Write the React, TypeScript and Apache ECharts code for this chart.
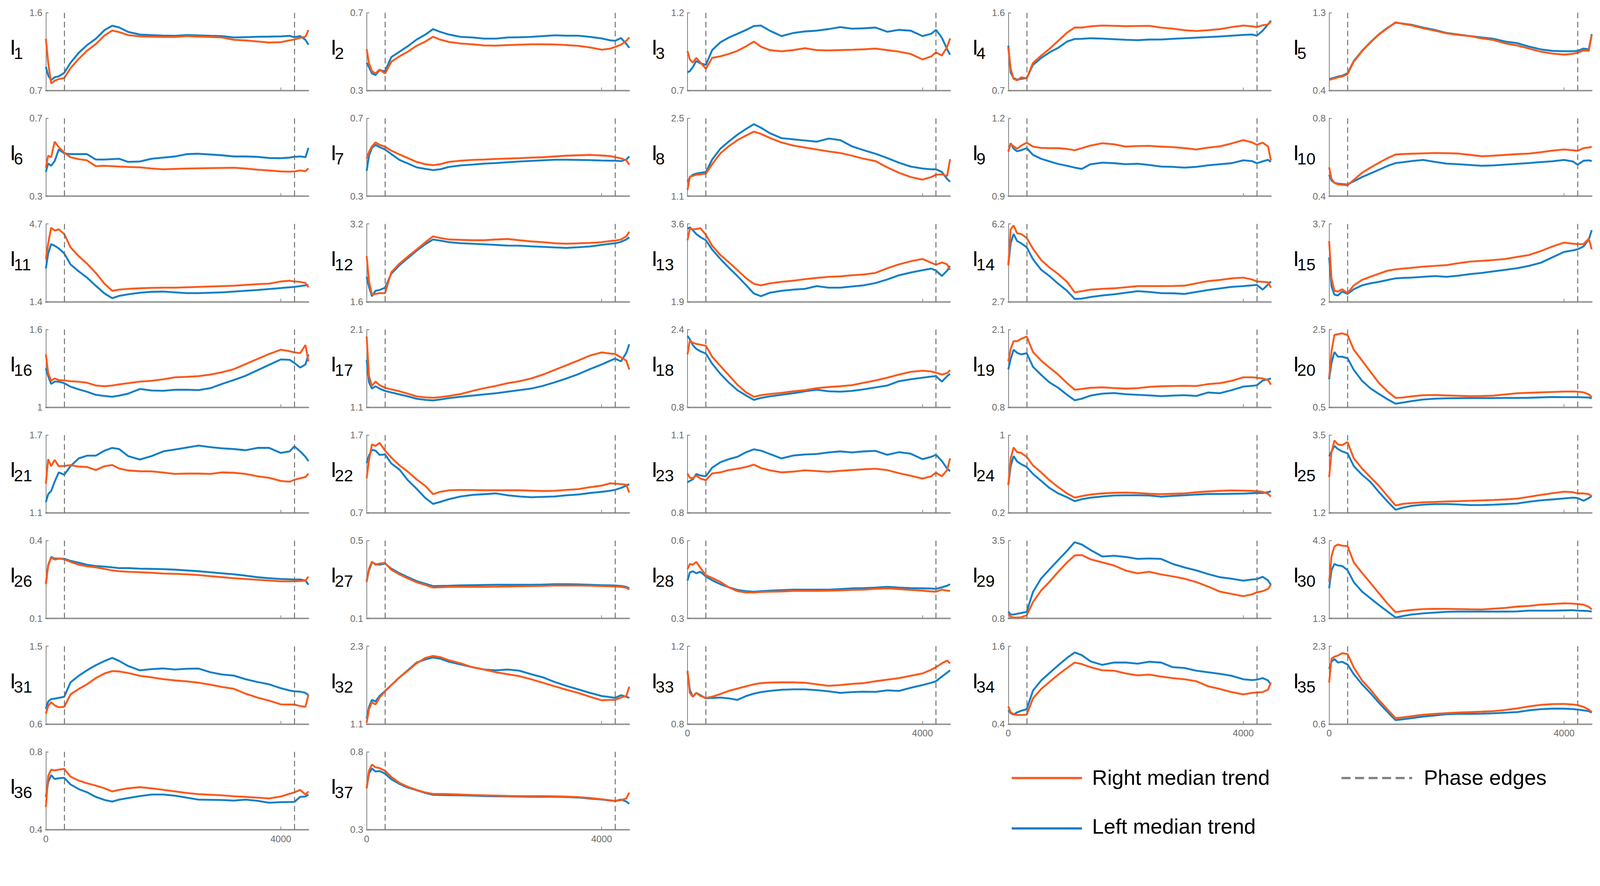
import React, { useEffect, useRef } from "react";
import * as echarts from "echarts";

// Shared sample positions (x) for every trend curve
const X = [0, 40, 90, 150, 220, 313, 420, 560, 700, 850, 1000, 1130, 1250, 1400, 1600, 1800, 2000, 2200, 2400, 2600, 2800, 3000, 3200, 3400, 3600, 3800, 4000, 4150, 4230, 4330, 4420, 4470];
const X_MAX = 4470;
const X_TICKS = [0, 4000];
const PHASE_EDGES = [313, 4230];

const Y_MIN = [0.7, 0.3, 0.7, 0.7, 0.4, 0.3, 0.3, 1.1, 0.9, 0.4, 1.4, 1.6, 1.9, 2.7, 2, 1, 1.1, 0.8, 0.8, 0.5, 1.1, 0.7, 0.8, 0.2, 1.2, 0.1, 0.1, 0.3, 0.8, 1.3, 0.6, 1.1, 0.8, 0.4, 0.6, 0.4, 0.3];
const Y_MAX = [1.6, 0.7, 1.2, 1.6, 1.3, 0.7, 0.7, 2.5, 1.2, 0.8, 4.7, 3.2, 3.6, 6.2, 3.7, 1.6, 2.1, 2.4, 2.1, 2.5, 1.7, 1.7, 1.1, 1, 3.5, 0.4, 0.5, 0.6, 3.5, 4.3, 1.5, 2.3, 1.2, 1.6, 2.3, 0.8, 0.8];

// Left median trend (blue) and Right median trend (orange), per panel I1..I37
const L1 = [0.975,0.874,0.82,0.854,0.864,0.905,1.021,1.137,1.225,1.299,1.40,1.45,1.43,1.379,1.348,1.341,1.336,1.333,1.342,1.338,1.333,1.33,1.314,1.318,1.322,1.324,1.327,1.333,1.318,1.33,1.287,1.23];
const R1 = [1.299,1.021,0.782,0.813,0.833,0.844,0.959,1.067,1.16,1.237,1.338,1.395,1.376,1.342,1.327,1.322,1.32,1.32,1.33,1.324,1.32,1.314,1.287,1.28,1.268,1.256,1.26,1.28,1.291,1.311,1.322,1.40];
const L2 = [0.443,0.42,0.388,0.38,0.404,0.40,0.472,0.50,0.528,0.562,0.588,0.616,0.602,0.588,0.576,0.573,0.567,0.567,0.573,0.574,0.576,0.58,0.584,0.582,0.582,0.576,0.568,0.558,0.556,0.57,0.54,0.52];
const R2 = [0.513,0.44,0.40,0.388,0.408,0.388,0.448,0.476,0.50,0.53,0.552,0.577,0.562,0.55,0.542,0.538,0.532,0.531,0.534,0.536,0.538,0.538,0.537,0.534,0.53,0.522,0.51,0.516,0.524,0.536,0.556,0.573];
const L3 = [0.817,0.825,0.85,0.89,0.875,0.865,0.96,1.01,1.04,1.065,1.09,1.115,1.118,1.085,1.05,1.07,1.08,1.085,1.095,1.108,1.098,1.10,1.105,1.078,1.09,1.085,1.05,1.065,1.09,1.04,0.965,0.93];
const R3 = [0.954,0.90,0.88,0.91,0.88,0.84,0.91,0.92,0.935,0.955,0.985,1.015,0.982,0.96,0.952,0.96,0.972,0.96,0.958,0.96,0.962,0.965,0.97,0.96,0.95,0.935,0.90,0.92,0.945,0.925,0.98,1.035];
const L4 = [1.219,0.907,0.844,0.826,0.835,0.844,0.997,1.078,1.141,1.195,1.267,1.297,1.299,1.305,1.301,1.294,1.287,1.283,1.29,1.291,1.299,1.305,1.312,1.319,1.326,1.335,1.344,1.348,1.335,1.393,1.465,1.51];
const R4 = [1.195,0.952,0.835,0.817,0.853,0.84,1.02,1.105,1.182,1.276,1.37,1.429,1.429,1.443,1.452,1.449,1.445,1.447,1.449,1.429,1.416,1.398,1.389,1.398,1.411,1.434,1.452,1.443,1.434,1.456,1.465,1.497];
const L5 = [0.531,0.54,0.549,0.562,0.571,0.60,0.742,0.859,0.958,1.053,1.129,1.185,1.175,1.161,1.129,1.102,1.066,1.048,1.03,1.014,0.999,0.967,0.949,0.909,0.877,0.859,0.855,0.855,0.859,0.886,0.877,1.054];
const R5 = [0.522,0.531,0.54,0.553,0.562,0.59,0.735,0.855,0.955,1.05,1.125,1.19,1.172,1.156,1.12,1.093,1.062,1.044,1.03,1.003,0.985,0.945,0.922,0.886,0.85,0.828,0.816,0.825,0.837,0.864,0.859,1.046];
const L6 = [0.425,0.468,0.456,0.48,0.54,0.52,0.516,0.516,0.516,0.488,0.488,0.49,0.492,0.476,0.478,0.492,0.498,0.504,0.516,0.518,0.514,0.51,0.504,0.504,0.502,0.496,0.495,0.498,0.502,0.504,0.50,0.548];
const R6 = [0.446,0.508,0.50,0.58,0.552,0.524,0.50,0.49,0.484,0.454,0.456,0.454,0.452,0.45,0.448,0.442,0.438,0.44,0.442,0.443,0.444,0.445,0.446,0.442,0.436,0.432,0.427,0.426,0.427,0.432,0.428,0.443];
const L7 = [0.43,0.508,0.548,0.564,0.552,0.54,0.516,0.486,0.468,0.448,0.44,0.434,0.438,0.45,0.458,0.462,0.467,0.47,0.474,0.478,0.481,0.484,0.487,0.487,0.486,0.485,0.483,0.482,0.482,0.48,0.488,0.504];
const R7 = [0.494,0.528,0.556,0.576,0.564,0.554,0.534,0.514,0.496,0.476,0.464,0.459,0.464,0.476,0.482,0.486,0.488,0.491,0.493,0.495,0.498,0.50,0.504,0.508,0.51,0.512,0.509,0.506,0.50,0.494,0.484,0.462];
const L8 = [1.359,1.436,1.485,1.506,1.52,1.534,1.758,1.954,2.08,2.206,2.311,2.395,2.332,2.234,2.143,2.122,2.101,2.08,2.136,2.108,1.996,1.926,1.863,1.786,1.702,1.632,1.597,1.583,1.582,1.534,1.408,1.359];
const R8 = [1.212,1.45,1.464,1.485,1.492,1.506,1.674,1.87,1.996,2.108,2.192,2.262,2.22,2.15,2.066,2.01,1.975,1.94,1.905,1.877,1.828,1.772,1.73,1.618,1.52,1.443,1.397,1.443,1.485,1.492,1.464,1.766];
const L9 = [1.072,1.104,1.083,1.073,1.077,1.085,1.059,1.044,1.034,1.024,1.017,1.01,1.005,1.023,1.029,1.027,1.023,1.025,1.02,1.014,1.013,1.01,1.013,1.019,1.023,1.027,1.038,1.035,1.027,1.034,1.04,1.032];
const R9 = [1.072,1.101,1.092,1.083,1.095,1.106,1.091,1.086,1.085,1.085,1.082,1.077,1.085,1.095,1.104,1.10,1.091,1.093,1.094,1.091,1.089,1.085,1.08,1.087,1.092,1.103,1.116,1.107,1.098,1.106,1.092,1.038];
const L10 = [0.509,0.48,0.468,0.464,0.462,0.46,0.476,0.498,0.516,0.536,0.556,0.57,0.574,0.58,0.586,0.576,0.567,0.564,0.56,0.556,0.558,0.562,0.566,0.57,0.575,0.579,0.586,0.578,0.562,0.582,0.584,0.58];
const R10 = [0.548,0.488,0.468,0.46,0.458,0.456,0.484,0.52,0.546,0.572,0.596,0.614,0.616,0.618,0.62,0.622,0.621,0.619,0.612,0.605,0.608,0.612,0.616,0.619,0.626,0.634,0.64,0.636,0.633,0.647,0.65,0.654];
const L11 = [2.812,3.446,3.842,3.776,3.66,3.45,2.984,2.687,2.423,2.077,1.747,1.549,1.648,1.714,1.78,1.819,1.829,1.796,1.763,1.763,1.78,1.796,1.829,1.862,1.895,1.938,1.978,2.011,2.027,2.06,2.093,2.113];
const R11 = [3.215,3.875,4.535,4.42,4.469,4.27,3.71,3.331,3.017,2.621,2.159,1.862,1.912,1.945,1.968,1.987,1.994,1.994,2.011,2.027,2.044,2.06,2.077,2.11,2.143,2.166,2.258,2.291,2.258,2.242,2.192,2.011];
const L12 = [2.112,1.904,1.712,1.824,1.84,1.888,2.176,2.352,2.496,2.648,2.784,2.88,2.856,2.824,2.803,2.792,2.781,2.768,2.755,2.752,2.739,2.728,2.717,2.707,2.72,2.736,2.768,2.792,2.80,2.832,2.88,2.928];
const R12 = [2.538,2.016,1.744,1.76,1.776,1.776,2.208,2.384,2.528,2.672,2.824,2.944,2.912,2.88,2.872,2.864,2.864,2.88,2.89,2.864,2.84,2.824,2.803,2.792,2.80,2.808,2.824,2.848,2.856,2.88,2.944,3.04];
const L13 = [3.498,3.524,3.464,3.379,3.311,3.243,3.039,2.835,2.648,2.461,2.257,2.079,2.019,2.096,2.138,2.164,2.181,2.24,2.206,2.206,2.232,2.257,2.308,2.385,2.478,2.538,2.589,2.623,2.58,2.461,2.58,2.682];
const R13 = [3.243,3.498,3.481,3.49,3.507,3.362,3.124,2.92,2.767,2.589,2.41,2.291,2.257,2.30,2.334,2.359,2.393,2.419,2.444,2.453,2.478,2.495,2.529,2.631,2.716,2.784,2.835,2.75,2.708,2.759,2.716,2.597];
const L14 = [4.335,5.325,5.745,5.43,5.325,5.15,4.608,4.135,3.855,3.505,3.19,2.823,2.84,2.91,2.98,3.033,3.103,3.173,3.138,3.085,3.078,3.05,3.138,3.225,3.295,3.365,3.40,3.435,3.453,3.243,3.47,3.61];
const R14 = [4.335,5.955,6.13,5.78,5.745,5.57,5.08,4.573,4.24,3.943,3.593,3.12,3.173,3.243,3.278,3.302,3.348,3.40,3.40,3.40,3.407,3.421,3.523,3.628,3.68,3.75,3.785,3.698,3.61,3.593,3.575,3.33];
const L15 = [2.969,2.34,2.153,2.136,2.221,2.17,2.272,2.357,2.40,2.434,2.476,2.51,2.519,2.527,2.544,2.561,2.544,2.57,2.604,2.629,2.663,2.697,2.731,2.782,2.85,2.969,3.088,3.122,3.146,3.207,3.36,3.564];
const R15 = [3.326,2.51,2.238,2.221,2.272,2.187,2.357,2.476,2.544,2.612,2.68,2.706,2.723,2.74,2.765,2.782,2.799,2.842,2.876,2.893,2.91,2.935,2.978,3.02,3.105,3.207,3.292,3.267,3.258,3.258,3.377,3.146];
const L16 = [1.30,1.24,1.18,1.198,1.198,1.186,1.159,1.138,1.12,1.096,1.087,1.081,1.09,1.105,1.141,1.129,1.127,1.135,1.135,1.132,1.147,1.18,1.21,1.243,1.285,1.327,1.369,1.366,1.342,1.306,1.33,1.408];
const R16 = [1.408,1.264,1.204,1.222,1.21,1.207,1.201,1.197,1.189,1.168,1.162,1.168,1.177,1.186,1.198,1.204,1.216,1.231,1.235,1.24,1.252,1.27,1.294,1.333,1.372,1.411,1.444,1.432,1.423,1.418,1.48,1.354];
const L17 = [1.708,1.42,1.34,1.37,1.34,1.31,1.29,1.265,1.24,1.21,1.195,1.188,1.20,1.218,1.235,1.25,1.265,1.28,1.30,1.32,1.34,1.375,1.42,1.47,1.525,1.59,1.65,1.70,1.725,1.69,1.80,1.91];
const R17 = [2.01,1.50,1.375,1.43,1.385,1.35,1.33,1.305,1.275,1.24,1.228,1.223,1.23,1.245,1.27,1.31,1.345,1.375,1.41,1.435,1.47,1.52,1.58,1.64,1.70,1.765,1.805,1.79,1.785,1.74,1.70,1.585];
const L18 = [2.267,2.20,2.08,2.00,1.952,1.904,1.696,1.488,1.312,1.152,1.04,0.952,0.992,1.024,1.056,1.088,1.128,1.16,1.128,1.12,1.136,1.168,1.208,1.248,1.336,1.376,1.408,1.432,1.44,1.328,1.44,1.488];
const R18 = [1.888,2.176,2.128,2.104,2.088,2.064,1.84,1.648,1.464,1.264,1.104,1.016,1.048,1.072,1.096,1.128,1.152,1.192,1.216,1.232,1.256,1.304,1.352,1.408,1.472,1.528,1.552,1.536,1.512,1.472,1.504,1.562];
const L19 = [1.431,1.606,1.762,1.71,1.684,1.704,1.476,1.34,1.216,1.125,1.008,0.917,0.943,0.995,1.028,1.038,1.018,1.008,0.998,0.985,0.995,1.002,0.989,1.047,1.034,1.086,1.145,1.158,1.167,1.247,1.268,1.281];
const R19 = [1.567,1.775,1.905,1.905,1.944,1.983,1.723,1.58,1.463,1.346,1.203,1.093,1.106,1.125,1.133,1.121,1.112,1.119,1.141,1.151,1.155,1.158,1.155,1.187,1.203,1.242,1.301,1.301,1.294,1.281,1.255,1.177];
const L20 = [1.22,1.64,1.92,1.80,1.80,1.76,1.46,1.18,0.99,0.84,0.70,0.592,0.62,0.656,0.70,0.72,0.73,0.734,0.736,0.736,0.736,0.74,0.74,0.744,0.754,0.764,0.76,0.76,0.76,0.756,0.75,0.73];
const R20 = [1.26,1.94,2.36,2.38,2.40,2.36,1.98,1.70,1.42,1.12,0.90,0.74,0.75,0.78,0.81,0.816,0.804,0.796,0.784,0.79,0.80,0.83,0.86,0.872,0.884,0.894,0.904,0.906,0.90,0.884,0.83,0.764];
const L21 = [1.182,1.244,1.268,1.34,1.412,1.394,1.46,1.52,1.541,1.541,1.58,1.601,1.592,1.538,1.511,1.538,1.574,1.589,1.604,1.619,1.607,1.598,1.592,1.583,1.601,1.601,1.562,1.574,1.613,1.574,1.532,1.499];
const R21 = [1.325,1.514,1.46,1.508,1.46,1.462,1.468,1.457,1.454,1.43,1.46,1.469,1.442,1.427,1.421,1.42,1.411,1.40,1.403,1.403,1.40,1.412,1.409,1.40,1.382,1.37,1.346,1.34,1.355,1.367,1.376,1.404];
const L22 = [1.34,1.44,1.51,1.50,1.445,1.45,1.335,1.255,1.12,1.01,0.89,0.815,0.84,0.875,0.91,0.93,0.94,0.95,0.925,0.91,0.90,0.905,0.91,0.925,0.935,0.955,0.97,0.985,0.996,1.02,1.05,1.07];
const R22 = [1.145,1.38,1.58,1.56,1.60,1.50,1.41,1.31,1.23,1.13,1.045,0.94,0.97,0.99,0.995,0.993,0.99,0.99,0.99,0.99,0.985,0.98,0.983,0.995,1.005,1.03,1.05,1.08,1.075,1.07,1.06,0.96];
const L23 = [0.918,0.923,0.929,0.95,0.944,0.941,0.974,0.995,1.007,1.016,1.034,1.045,1.04,1.027,1.01,1.021,1.025,1.027,1.033,1.037,1.033,1.037,1.039,1.024,1.034,1.028,1.007,1.016,1.024,1.0,0.971,0.96];
const R23 = [0.952,0.935,0.934,0.944,0.932,0.926,0.952,0.956,0.965,0.97,0.977,0.986,0.973,0.964,0.956,0.959,0.964,0.961,0.958,0.962,0.965,0.968,0.97,0.965,0.953,0.943,0.932,0.941,0.955,0.941,0.965,1.01];
const L24 = [0.486,0.68,0.784,0.728,0.70,0.672,0.60,0.528,0.456,0.40,0.36,0.32,0.34,0.356,0.368,0.378,0.38,0.38,0.378,0.366,0.374,0.38,0.388,0.394,0.394,0.396,0.398,0.402,0.404,0.404,0.412,0.422];
const R24 = [0.486,0.76,0.872,0.824,0.816,0.776,0.688,0.616,0.536,0.464,0.40,0.356,0.372,0.388,0.40,0.406,0.408,0.404,0.396,0.392,0.396,0.40,0.412,0.42,0.426,0.43,0.428,0.426,0.422,0.416,0.396,0.366];
const L25 = [2.872,3.017,3.178,3.086,3.017,2.96,2.58,2.327,2.12,1.81,1.522,1.292,1.35,1.407,1.442,1.458,1.462,1.448,1.43,1.43,1.442,1.458,1.476,1.527,1.568,1.596,1.626,1.649,1.637,1.557,1.637,1.697];
const R25 = [2.258,2.994,3.339,3.224,3.201,3.293,2.81,2.511,2.258,1.994,1.683,1.419,1.465,1.488,1.51,1.522,1.536,1.545,1.557,1.568,1.58,1.596,1.619,1.672,1.729,1.78,1.826,1.81,1.775,1.775,1.752,1.697];
const L26 = [0.235,0.304,0.337,0.331,0.331,0.33,0.322,0.315,0.307,0.302,0.30,0.297,0.294,0.294,0.292,0.291,0.29,0.288,0.285,0.282,0.278,0.274,0.27,0.265,0.259,0.255,0.252,0.251,0.25,0.25,0.246,0.23];
const R26 = [0.232,0.307,0.334,0.327,0.33,0.328,0.318,0.307,0.301,0.297,0.291,0.285,0.282,0.28,0.278,0.276,0.273,0.272,0.27,0.267,0.263,0.259,0.255,0.252,0.249,0.246,0.243,0.243,0.243,0.244,0.246,0.261];
const L27 = [0.294,0.348,0.388,0.38,0.376,0.382,0.356,0.332,0.312,0.292,0.278,0.266,0.267,0.268,0.27,0.271,0.272,0.273,0.273,0.273,0.273,0.274,0.276,0.276,0.275,0.273,0.271,0.27,0.269,0.267,0.262,0.255];
const R27 = [0.287,0.356,0.392,0.376,0.382,0.385,0.35,0.326,0.306,0.286,0.272,0.259,0.26,0.262,0.262,0.262,0.262,0.263,0.264,0.265,0.266,0.267,0.269,0.269,0.269,0.268,0.266,0.265,0.264,0.262,0.258,0.248];
const L28 = [0.446,0.477,0.482,0.474,0.48,0.462,0.447,0.432,0.42,0.41,0.405,0.403,0.405,0.407,0.409,0.411,0.411,0.411,0.411,0.413,0.416,0.417,0.419,0.422,0.419,0.417,0.416,0.415,0.414,0.42,0.426,0.432];
const R28 = [0.49,0.51,0.507,0.518,0.495,0.467,0.456,0.441,0.42,0.405,0.40,0.40,0.402,0.403,0.404,0.406,0.406,0.406,0.407,0.408,0.41,0.411,0.414,0.416,0.413,0.41,0.407,0.404,0.403,0.411,0.407,0.406];
const L29 = [1.038,0.935,0.935,0.962,0.989,1.03,1.718,2.19,2.501,2.825,3.149,3.446,3.365,3.176,2.947,2.974,2.933,2.866,2.879,2.866,2.69,2.569,2.466,2.339,2.231,2.177,2.11,2.15,2.164,2.245,2.123,1.961];
const R29 = [0.967,0.854,0.832,0.827,0.84,0.908,1.367,1.772,2.069,2.42,2.744,2.987,3.00,2.852,2.744,2.636,2.461,2.366,2.42,2.326,2.258,2.177,2.061,1.907,1.732,1.651,1.57,1.637,1.705,1.745,1.826,1.966];
const L30 = [2.464,3.16,3.40,3.34,3.325,3.16,2.695,2.335,2.08,1.81,1.555,1.336,1.39,1.45,1.495,1.525,1.555,1.564,1.564,1.564,1.564,1.564,1.57,1.60,1.60,1.60,1.609,1.618,1.60,1.594,1.582,1.564];
const R30 = [2.701,3.70,4.075,4.15,4.105,4.09,3.46,3.055,2.68,2.26,1.855,1.54,1.585,1.624,1.66,1.669,1.666,1.66,1.651,1.645,1.675,1.705,1.756,1.78,1.828,1.855,1.882,1.87,1.855,1.828,1.75,1.645];
const L31 = [0.776,0.861,0.888,0.893,0.902,0.915,1.082,1.158,1.221,1.28,1.329,1.365,1.329,1.271,1.221,1.235,1.243,1.23,1.239,1.241,1.199,1.172,1.16,1.118,1.086,1.059,1.014,0.987,0.978,0.974,0.96,0.933];
const R31 = [0.719,0.807,0.852,0.816,0.794,0.798,0.942,1.005,1.059,1.131,1.185,1.212,1.208,1.19,1.158,1.14,1.118,1.104,1.093,1.077,1.055,1.028,1.007,0.951,0.906,0.87,0.827,0.825,0.825,0.807,0.798,0.939];
const L32 = [1.184,1.364,1.472,1.448,1.532,1.61,1.70,1.82,1.928,2.048,2.096,2.126,2.108,2.06,2.018,1.976,1.94,1.928,1.94,1.922,1.868,1.82,1.748,1.688,1.634,1.58,1.532,1.514,1.503,1.544,1.52,1.503];
const R32 = [1.119,1.328,1.436,1.40,1.508,1.604,1.70,1.82,1.922,2.036,2.12,2.15,2.132,2.084,2.036,1.976,1.94,1.898,1.868,1.838,1.79,1.736,1.682,1.628,1.58,1.52,1.466,1.472,1.472,1.508,1.532,1.676];
const L33 = [1.067,0.976,0.94,0.96,0.948,0.932,0.934,0.936,0.932,0.924,0.944,0.956,0.964,0.97,0.976,0.978,0.978,0.974,0.968,0.96,0.964,0.966,0.965,0.973,0.97,0.986,1.00,1.012,1.02,1.044,1.064,1.076];
const R33 = [1.074,0.96,0.94,0.96,0.944,0.934,0.94,0.954,0.97,0.982,0.994,1.004,1.01,1.013,1.014,1.014,1.012,1.004,0.996,1.00,1.006,1.01,1.02,1.028,1.036,1.048,1.06,1.079,1.092,1.112,1.126,1.112];
const L34 = [0.612,0.568,0.544,0.58,0.604,0.628,0.916,1.072,1.186,1.306,1.42,1.504,1.462,1.366,1.312,1.348,1.348,1.33,1.36,1.348,1.276,1.264,1.222,1.198,1.174,1.144,1.09,1.078,1.084,1.108,1.072,1.01];
const R34 = [0.671,0.58,0.55,0.538,0.538,0.544,0.796,0.94,1.048,1.162,1.264,1.348,1.324,1.276,1.228,1.222,1.18,1.15,1.162,1.132,1.108,1.09,1.06,0.982,0.94,0.892,0.856,0.88,0.886,0.892,0.928,1.038];
const L35 = [1.807,1.96,2.02,1.943,1.96,1.90,1.688,1.467,1.28,1.059,0.855,0.685,0.702,0.728,0.762,0.787,0.813,0.821,0.821,0.826,0.833,0.847,0.86,0.898,0.923,0.935,0.935,0.926,0.915,0.898,0.881,0.847];
const R35 = [1.504,2.028,2.071,2.096,2.147,2.13,1.833,1.552,1.357,1.119,0.906,0.728,0.745,0.77,0.801,0.821,0.838,0.85,0.86,0.869,0.881,0.906,0.94,0.983,1.017,1.034,1.039,1.025,1.011,0.974,0.915,0.86];
const L36 = [0.567,0.644,0.68,0.66,0.664,0.666,0.632,0.608,0.592,0.568,0.552,0.544,0.554,0.562,0.572,0.58,0.58,0.574,0.564,0.554,0.553,0.552,0.549,0.554,0.548,0.538,0.541,0.542,0.542,0.568,0.57,0.58];
const R36 = [0.516,0.676,0.708,0.704,0.708,0.712,0.672,0.652,0.638,0.626,0.612,0.596,0.604,0.612,0.618,0.612,0.604,0.596,0.588,0.582,0.579,0.576,0.571,0.568,0.564,0.56,0.57,0.584,0.591,0.604,0.58,0.596];
const L37 = [0.565,0.66,0.693,0.673,0.676,0.66,0.623,0.593,0.57,0.553,0.535,0.523,0.522,0.521,0.52,0.518,0.515,0.514,0.513,0.512,0.511,0.511,0.511,0.509,0.506,0.499,0.493,0.486,0.484,0.493,0.48,0.466];
const R37 = [0.565,0.68,0.718,0.70,0.695,0.678,0.638,0.60,0.575,0.555,0.538,0.529,0.529,0.528,0.525,0.522,0.52,0.518,0.516,0.515,0.515,0.515,0.514,0.512,0.509,0.503,0.495,0.488,0.484,0.489,0.50,0.538];

const LEFT = [L1,L2,L3,L4,L5,L6,L7,L8,L9,L10,L11,L12,L13,L14,L15,L16,L17,L18,L19,L20,L21,L22,L23,L24,L25,L26,L27,L28,L29,L30,L31,L32,L33,L34,L35,L36,L37];
const RIGHT = [R1,R2,R3,R4,R5,R6,R7,R8,R9,R10,R11,R12,R13,R14,R15,R16,R17,R18,R19,R20,R21,R22,R23,R24,R25,R26,R27,R28,R29,R30,R31,R32,R33,R34,R35,R36,R37];

const LEGEND_ITEMS = ["Right median trend", "Left median trend", "Phase edges"];

const ORANGE = "#FA5A1C";
const BLUE = "#137FC6";
const EDGE = "#6c6c6c";
const FONT = "'Liberation Sans', Arial, Helvetica, sans-serif";
const REF_W = 4259;
const REF_H = 2268;

export default function App() {
  const ref = useRef<HTMLDivElement>(null);
  useEffect(() => {
    document.body.style.margin = "0";
    document.body.style.overflow = "hidden";
    const el = ref.current as HTMLDivElement;
    const s = Math.min(el.clientWidth / REF_W, el.clientHeight / REF_H);
    const P = (v: number) => v * s;
    const chart = echarts.init(el, null, { renderer: "svg" });
    const grid: any[] = [];
    const xAxis: any[] = [];
    const yAxis: any[] = [];
    const series: any[] = [];
    const graphic: any[] = [];
    const fmt = (v: number) => String(Math.round(v * 100) / 100);

    for (let i = 0; i < 37; i++) {
      const row = Math.floor(i / 5);
      const col = i % 5;
      const left = 122 + 854 * col;
      const top = 34 + 281 * row;
      const bottomRow = i >= 32;
      grid.push({ left: P(left), top: P(top), width: P(699), height: P(207), containLabel: false });
      xAxis.push({
        type: "value", gridIndex: i, min: 0, max: X_MAX, interval: 4000,
        axisLine: { show: true, onZero: false, lineStyle: { color: "#979797", width: P(4) } },
        axisTick: { show: true, inside: true, length: P(8), customValues: X_TICKS, lineStyle: { color: "#8a8a8a", width: P(2) } },
        axisLabel: {
          show: bottomRow, customValues: X_TICKS, color: "#6a6a6a", fontSize: P(25), fontFamily: FONT, margin: P(12),
          formatter: (v: number) => (v === 0 || v === 4000 ? String(v) : ""),
        },
        splitLine: { show: false },
      });
      const ext = [Y_MIN[i], Y_MAX[i]];
      yAxis.push({
        type: "value", gridIndex: i, min: Y_MIN[i], max: Y_MAX[i],
        axisLine: { show: true, onZero: false, lineStyle: { color: "#7c7c7c", width: P(2) } },
        axisTick: { show: true, inside: true, length: P(7), customValues: ext, lineStyle: { color: "#7c7c7c", width: P(2) } },
        axisLabel: {
          show: true, customValues: ext, color: "#6a6a6a", fontSize: P(25), fontFamily: FONT, margin: P(9),
          formatter: (v: number) => (Math.abs(v - Y_MIN[i]) < 1e-6 || Math.abs(v - Y_MAX[i]) < 1e-6 ? fmt(v) : ""),
        },
        splitLine: { show: false },
      });
      series.push({
        type: "line", xAxisIndex: i, yAxisIndex: i, data: [], silent: true, z: 1,
        markLine: {
          silent: true, symbol: ["none", "none"], label: { show: false }, animation: false,
          lineStyle: { type: [P(15), P(9)], color: EDGE, width: P(2.5) },
          emphasis: { disabled: true },
          data: PHASE_EDGES.map((v) => ({ xAxis: v })),
        },
      });
      series.push({
        type: "line", name: LEGEND_ITEMS[1], xAxisIndex: i, yAxisIndex: i, silent: true, z: 2,
        data: X.map((x, k) => [x, LEFT[i][k]]), showSymbol: false, symbol: "none",
        lineStyle: { color: BLUE, width: P(5) }, itemStyle: { color: BLUE },
      });
      series.push({
        type: "line", name: LEGEND_ITEMS[0], xAxisIndex: i, yAxisIndex: i, silent: true, z: 3,
        data: X.map((x, k) => [x, RIGHT[i][k]]), showSymbol: false, symbol: "none",
        lineStyle: { color: ORANGE, width: P(5) }, itemStyle: { color: ORANGE },
      });
      graphic.push({
        type: "text", x: P(left - 96), y: P(top + 92), silent: true,
        style: { text: "I", fontSize: P(58), fontFamily: FONT, fill: "#000", align: "left", verticalAlign: "middle" },
      });
      graphic.push({
        type: "text", x: P(left - 85), y: P(top + 108), silent: true,
        style: { text: String(i + 1), fontSize: P(44), fontFamily: FONT, fill: "#000", align: "left", verticalAlign: "middle" },
      });
    }

    // legend (drawn as graphics)
    graphic.push({ type: "line", silent: true, shape: { x1: P(2693), y1: P(2071), x2: P(2880), y2: P(2071) }, style: { stroke: ORANGE, lineWidth: P(6) } });
    graphic.push({ type: "text", silent: true, x: P(2907), y: P(2069), style: { text: LEGEND_ITEMS[0], fontSize: P(56), fontFamily: FONT, fill: "#000", verticalAlign: "middle" } });
    graphic.push({ type: "line", silent: true, shape: { x1: P(2693), y1: P(2205), x2: P(2880), y2: P(2205) }, style: { stroke: BLUE, lineWidth: P(6) } });
    graphic.push({ type: "text", silent: true, x: P(2907), y: P(2199), style: { text: LEGEND_ITEMS[1], fontSize: P(56), fontFamily: FONT, fill: "#000", verticalAlign: "middle" } });
    graphic.push({ type: "line", silent: true, shape: { x1: P(3571), y1: P(2071), x2: P(3759), y2: P(2071) }, style: { stroke: "#808080", lineWidth: P(6), lineDash: [P(24), P(12)] } });
    graphic.push({ type: "text", silent: true, x: P(3790), y: P(2069), style: { text: LEGEND_ITEMS[2], fontSize: P(56), fontFamily: FONT, fill: "#000", verticalAlign: "middle" } });

    chart.setOption({
      animation: false,
      backgroundColor: "#ffffff",
      grid, xAxis, yAxis, series, graphic,
    });
    return () => chart.dispose();
  }, []);
  return <div ref={ref} style={{ position: "fixed", left: 0, top: 0, width: "100vw", height: "100vh" }} />;
}
